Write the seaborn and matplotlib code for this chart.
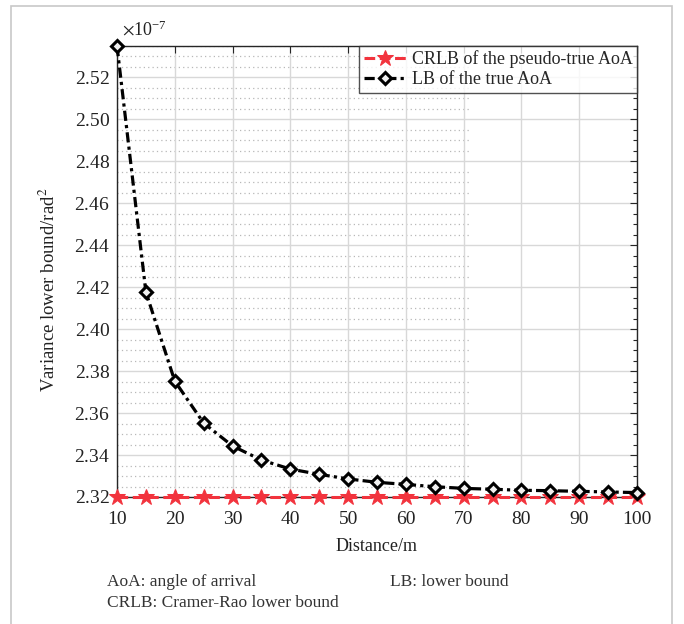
import numpy as np
import pandas as pd
import matplotlib
matplotlib.use("Agg")
import matplotlib.pyplot as plt
import seaborn as sns
from matplotlib.ticker import MultipleLocator, ScalarFormatter
from matplotlib.patches import Rectangle

distance = [10, 15, 20, 25, 30, 35, 40, 45, 50, 55, 60, 65, 70, 75, 80, 85, 90, 95, 100]
lb_true = [2.5348, 2.4176, 2.3752, 2.3552, 2.3443, 2.3376, 2.3333, 2.3308, 2.3286, 2.3270,
           2.3260, 2.3249, 2.3241, 2.3237, 2.3232, 2.3230, 2.3227, 2.3224, 2.3221]
crlb_pseudo = [2.3200] * 19
scale = 1e-7
label_crlb = "CRLB of the pseudo-true AoA"
label_lb = "LB of the true AoA"
xlabel = "Distance/m"
ylabel = "Variance lower bound/rad$^2$"
notes = ["AoA: angle of arrival", "LB: lower bound", "CRLB: Cramer-Rao lower bound"]

sns.set_theme(style="white")
plt.rcParams['font.family'] = ['Liberation Serif', 'DejaVu Serif']
plt.rcParams['mathtext.fontset'] = 'stix'

df = pd.DataFrame({"Distance": distance,
                   "crlb": np.array(crlb_pseudo) * scale,
                   "lb": np.array(lb_true) * scale})

fig = plt.figure(figsize=(6.84, 6.24), dpi=100)
ax = fig.add_axes([117/684, 1-497/624, 520/684, 451/624])

red = "#f2333d"
sns.lineplot(data=df, x="Distance", y="crlb", ax=ax, color=red, linestyle=(0, (3.5, 1.5)),
             linewidth=2.2, marker="*", markersize=12, markerfacecolor=red, markeredgecolor=red,
             label=label_crlb, clip_on=False, zorder=4)
sns.lineplot(data=df, x="Distance", y="lb", ax=ax, color="black", linestyle=(0, (3.2, 1.3, 1, 1.3)),
             linewidth=2.3, marker="D", markersize=6, markerfacecolor="#f0f0f0",
             markeredgecolor="black", markeredgewidth=2.2, label=label_lb, clip_on=False, zorder=5)

ax.set_xlim(10, 100)
ax.set_ylim(2.32 * scale, max(lb_true) * scale)
ax.xaxis.set_major_locator(MultipleLocator(10))
ax.yaxis.set_major_locator(MultipleLocator(0.02 * scale))
ax.yaxis.set_minor_locator(MultipleLocator(0.005 * scale))
fmt = ScalarFormatter(useMathText=True, useOffset=False)
fmt.set_powerlimits((-3, 3))
ax.yaxis.set_major_formatter(fmt)

ax.tick_params(axis="both", which="both", direction="in", top=True, right=True,
               labelsize=14, colors="#262626", labelcolor="#222222")
ax.tick_params(which="major", length=5, width=0.8)
ax.tick_params(which="minor", length=3, width=0.8)
ax.tick_params(axis="y", which="major", pad=5)
ax.tick_params(axis="x", which="major", pad=10)
ax.tick_params(axis="x", which="minor", bottom=False, top=False)

ax.grid(True, which="major", color="#d8d8d8", linewidth=1.0, linestyle="-")
ax.set_axisbelow(True)
# dotted minor horizontal grid (only over the left part, as in the reference)
minor_locs = ax.yaxis.get_minorticklocs()
ax.hlines(minor_locs, 0, 0.68, transform=ax.get_yaxis_transform(), colors="#b8b8b8",
          linestyles=(0, (1, 2.5)), linewidth=0.9, zorder=0.5)

for s in ax.spines.values():
    s.set_color("#262626")
    s.set_linewidth(1.0)

ax.set_xlabel(xlabel, fontsize=13, color="#222222", labelpad=7)
ax.set_ylabel(ylabel, fontsize=13.5, color="#222222")
ax.yaxis.set_label_coords((59 - 117) / 520, 0.459)

leg = ax.legend(loc="upper right", fontsize=13, frameon=True, fancybox=False,
                borderpad=0.25, handlelength=2.4, handletextpad=0.25, labelspacing=0.15,
                borderaxespad=0)
leg.get_frame().set_edgecolor("#262626")
leg.get_frame().set_linewidth(1.0)

fig.canvas.draw()
off = ax.yaxis.get_offset_text().get_text()
ax.yaxis.get_offset_text().set_visible(False)
fig.text(122/684, 1-30/624, off, fontsize=13, color="#222222", va="center", ha="left")

fig.text(107/684, 1-582/624, notes[0], fontsize=12.5, color="#333333", va="center")
fig.text(390/684, 1-582/624, notes[1], fontsize=12.5, color="#333333", va="center")
fig.text(107/684, 1-603/624, notes[2], fontsize=12.5, color="#333333", va="center")

fig.add_artist(Rectangle((11/684, -0.05), (672-11)/684, (1-6/624) + 0.05,
                         transform=fig.transFigure, fill=False, edgecolor="#c8c8c8", linewidth=1.2))

fig.savefig("out.png", dpi=100)
